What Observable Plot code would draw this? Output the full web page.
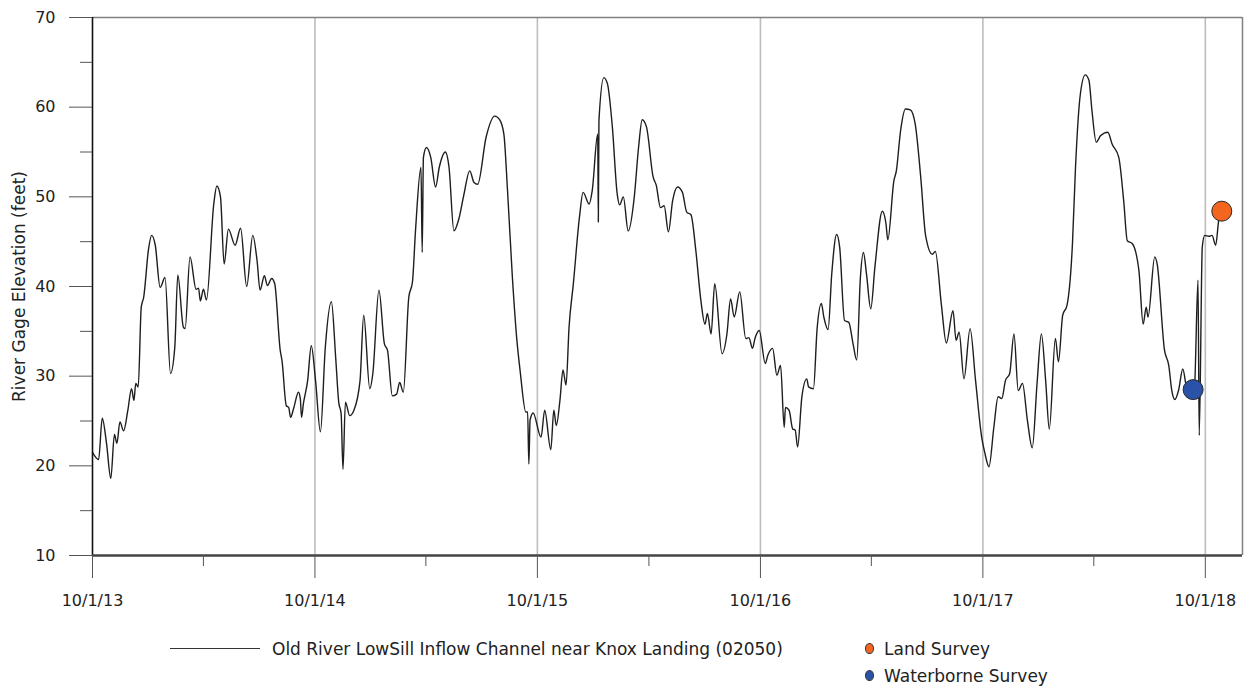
<!DOCTYPE html>
<html>
<head>
<meta charset="utf-8">
<script src="https://cdn.jsdelivr.net/npm/d3@7"></script>
<script src="https://cdn.jsdelivr.net/npm/@observablehq/plot@0.6"></script>
<style>
  html, body { margin: 0; padding: 0; background: #fff; overflow: hidden; }
  #wrap { width: 1244px; height: 687px; position: relative; font-family: "DejaVu Sans", sans-serif; color: #222; }
  #legend { position: relative; width: 1244px; height: 67px; font-size: 17px; }
  #legend .sw-line { position: absolute; left: 170px; top: 28px; width: 90px; height: 0; border-top: 1.5px solid #333; }
  #legend .lbl { position: absolute; line-height: 20px; white-space: nowrap; }
  #legend .dot { position: absolute; width: 9px; height: 11px; border-radius: 50%; border: 1px solid #333; box-sizing: border-box; }
</style>
</head>
<body>
<div id="wrap">
  <div id="chart"></div>
  <div id="legend"></div>
</div>
<script>
// ---- data (days since 10/1/2013, river gage elevation in feet) ----
const startDate = "2013-10-01";
const endDate = "2018-12-01";

const wy2014Days = [0,10,16,23,30,36,40,45,51,58,64,68,71,75,80,84,92,97,103,111,119,128,135,140,149,152,160,170,174,177,182,187,199,204,210,216,223,234,243,253,263,270,275,282,287,294,299,308,311,318,322,325,330,338,341,343,346,353,359];
const wy2014Feet = [21.5,20.7,25.3,22.5,18.6,23.5,22.5,24.9,23.9,26.2,28.6,27.3,29.2,28.8,37.7,38.8,44.2,45.7,44.6,39.9,41.0,30.3,33.2,41.3,35.5,35.3,43.3,39.7,39.8,38.4,39.7,38.5,49.2,51.2,50.0,42.5,46.4,44.6,46.5,40.0,45.7,42.9,39.6,41.2,40.1,40.9,40.3,32.9,31.7,26.7,26.5,25.4,26.4,28.2,27.5,25.4,26.9,29.5,33.4];

const wy2015Days = [366,374,382,392,399,404,408,411,415,422,429,439,445,455,460,470,479,484,492,499,504,510,519,525,530,539,541,543,548,555,563,569,579,585,593,601,609,619,626,632,646,660,668,675,681,689,696,702,711,714,716,718,723];
const wy2015Feet = [29.5,23.8,33.2,38.3,32.1,27.1,25.8,19.6,27.1,25.6,26.2,29.5,36.8,28.6,30.3,39.6,33.6,32.9,27.8,28.0,29.3,28.2,38.8,40.5,46.2,53.3,43.8,54.4,55.5,54.4,51.1,53.3,55.0,53.3,46.2,47.5,50.1,52.9,51.6,51.4,56.7,59.0,58.6,57.0,50.7,41.0,34.3,30.4,26.0,26.0,20.2,25.1,25.9];

const wy2016Days = [736,742,752,757,761,767,772,777,782,789,799,805,815,820,829,830,831,839,845,853,861,865,871,879,889,896,902,909,920,925,932,938,945,952,960,968,975,982,990,998,1005,1009,1015,1021,1033,1041,1047,1053,1062,1072,1077,1083,1087,1094];
const wy2016Feet = [23.2,26.2,21.8,26.2,24.5,27.3,30.7,29.0,35.5,40.3,47.7,50.5,49.2,50.7,57.0,47.2,58.5,63.3,62.6,57.8,50.3,49.1,50.0,46.2,50.0,55.5,58.6,57.8,52.2,51.3,48.8,49.0,46.1,49.6,51.1,50.5,48.3,48.0,44.0,38.6,35.8,37.0,34.7,40.3,32.5,34.7,38.6,36.6,39.4,34.2,34.3,33.1,34.2,35.1];

const wy2017Days = [1104,1108,1116,1123,1129,1135,1137,1143,1149,1153,1157,1164,1172,1175,1183,1189,1196,1200,1207,1213,1221,1226,1234,1241,1248,1254,1260,1265,1270,1277,1284,1296,1302,1305,1315,1319,1326,1334,1342,1350,1359,1367,1378,1383,1393,1401,1412,1417,1422,1430,1440,1449,1459];
const wy2017Feet = [31.4,32.3,33.1,30.1,31.2,24.3,26.5,26.2,24.1,24.0,22.1,27.7,29.7,28.8,28.6,35.3,38.1,36.6,35.2,41.4,45.8,44.4,36.2,36.0,33.6,31.8,41.0,43.8,41.4,37.5,42.3,48.4,47.0,45.2,51.8,52.9,57.4,59.8,59.7,58.1,52.2,45.7,43.6,43.9,37.9,33.7,37.3,34.0,34.9,29.7,35.3,29.5,23.2];

const wy2018Days = [1464,1471,1479,1486,1492,1498,1505,1512,1519,1526,1534,1542,1550,1557,1564,1570,1580,1585,1592,1599,1608,1613,1621,1629,1635,1640,1647,1654,1666,1673,1684,1692,1698,1706,1717,1724,1729,1732,1743,1747,1759,1766,1771,1776,1782,1789,1795,1802,1808,1814,1816,1821,1825,1832,1837,1843,1848,1853];
const wy2018Feet = [21.5,19.9,24.3,27.7,27.5,29.5,30.3,34.7,28.4,29.2,25.1,22.0,29.3,34.7,29.5,24.1,34.2,31.6,36.8,37.9,44.8,53.3,61.5,63.6,63.0,59.6,56.1,56.8,57.2,55.9,54.4,49.6,45.1,44.8,41.8,35.8,37.7,36.6,43.3,42.5,32.9,31.2,28.4,27.4,28.4,30.8,28.8,28.0,28.5,40.7,23.4,44.4,45.7,45.6,45.7,44.6,47.4,48.4];

const landSurveyDays = [1853];
const landSurveyFeet = [48.4];
const waterborneSurveyDays = [1806];
const waterborneSurveyFeet = [28.5];

const majorXTicks = ["2013-10-01","2014-10-01","2015-10-01","2016-10-01","2017-10-01","2018-10-01"];
const minorXTicks = ["2014-04-01","2015-04-01","2016-04-01","2017-04-01","2018-04-01"];
const majorYTicks = [10,20,30,40,50,60,70];
const minorYTicks = [15,25,35,45,55,65];

const seriesName = "Old River LowSill Inflow Channel near Knox Landing (02050)";
const yLabel = "River Gage Elevation (feet)";
const landLabel = "Land Survey";
const waterLabel = "Waterborne Survey";

// ---- build ----
const t0 = new Date(startDate + "T00:00:00Z");
const toDate = (d) => d3.utcDay.offset(t0, d);
const allDays = [].concat(wy2014Days, wy2015Days, wy2016Days, wy2017Days, wy2018Days);
const allFeet = [].concat(wy2014Feet, wy2015Feet, wy2016Feet, wy2017Feet, wy2018Feet);
const series = allDays.map((d, i) => ({date: toDate(d), feet: allFeet[i]}));
const land = landSurveyDays.map((d, i) => ({date: toDate(d), feet: landSurveyFeet[i]}));
const water = waterborneSurveyDays.map((d, i) => ({date: toDate(d), feet: waterborneSurveyFeet[i]}));
const parse = (s) => new Date(s + "T00:00:00Z");
const majX = majorXTicks.map(parse);
const minX = minorXTicks.map(parse);
const xDomain = [parse(startDate), parse(endDate)];

const ORANGE = "#f2661f";
const BLUE = "#2a52a8";

const chart = Plot.plot({
  width: 1244,
  height: 620,
  marginLeft: 92,
  marginRight: 2,
  marginTop: 17,
  marginBottom: 65,
  style: {fontFamily: "DejaVu Sans, sans-serif", fontSize: "16px", color: "#222", background: "#fff", overflow: "visible"},
  x: {type: "utc", domain: xDomain},
  y: {domain: [10, 70]},
  marks: [
    Plot.ruleX(majX.slice(1), {stroke: "#bdbdbd", strokeWidth: 1.6}),
    Plot.ruleY([70], {stroke: "#808080", strokeWidth: 1.5}),
    Plot.ruleX([xDomain[1]], {stroke: "#808080", strokeWidth: 1.5}),
    Plot.line(series, {x: "date", y: "feet", stroke: "#1e1e1e", strokeWidth: 1.4, curve: "monotone-x"}),
    Plot.dot(water, {x: "date", y: "feet", r: 10, fill: BLUE, stroke: "#2a2a2a", strokeWidth: 1}),
    Plot.dot(land, {x: "date", y: "feet", r: 10, fill: ORANGE, stroke: "#2a2a2a", strokeWidth: 1}),
    Plot.ruleX([xDomain[0]], {stroke: "#111", strokeWidth: 1.6}),
    Plot.ruleY([10], {stroke: "#444", strokeWidth: 2.5}),
    Plot.axisY(majorYTicks, {tickSize: 23, tickPadding: 14, fontSize: 16, label: null, stroke: "#555"}),
    Plot.axisY(minorYTicks, {tickSize: 12, tickFormat: () => "", label: null, stroke: "#555"}),
    Plot.axisX(majX, {tickSize: 23, tickPadding: 16, fontSize: 16, tickFormat: d3.utcFormat("%-m/%-d/%y"), label: null, stroke: "#555"}),
    Plot.axisX(minX, {tickSize: 11, tickFormat: () => "", label: null, stroke: "#555"}),
    Plot.text([yLabel], {frameAnchor: "left", textAnchor: "middle", rotate: -90, dx: -73, fontSize: 17, fill: "#222"})
  ]
});
document.getElementById("chart").appendChild(chart);

// ---- legend ----
const lg = document.getElementById("legend");
lg.innerHTML = `
  <div class="sw-line"></div>
  <div class="lbl" style="left:272px; top:19px;">${seriesName}</div>
  <div class="dot" style="left:865px; top:23px; background:${ORANGE};"></div>
  <div class="lbl" style="left:884px; top:19px;">${landLabel}</div>
  <div class="dot" style="left:865px; top:50px; background:${BLUE};"></div>
  <div class="lbl" style="left:884px; top:46px;">${waterLabel}</div>
`;
</script>
</body>
</html>
